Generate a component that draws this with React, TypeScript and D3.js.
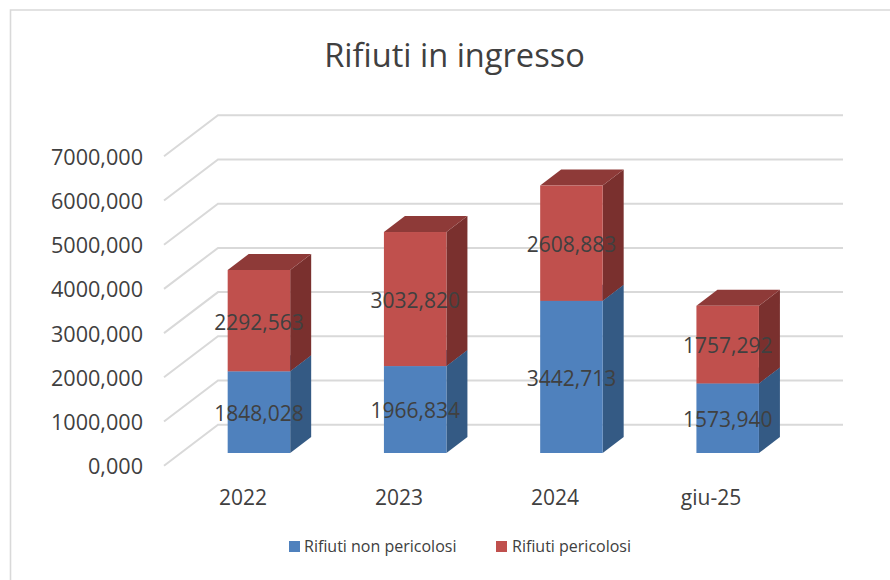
import React from "react";
import * as d3 from "d3";

const categories = ["2022", "2023", "2024", "giu-25"];
const nonPericolosi = [1848.028, 1966.834, 3442.713, 1573.94];
const pericolosi = [2292.563, 3032.82, 2608.883, 1757.292];
const ticks = [0, 1000, 2000, 3000, 4000, 5000, 6000, 7000];
const seriesNames = ["Rifiuti non pericolosi", "Rifiuti pericolosi"];

const FONT = "'Open Sans', sans-serif";
const fmt = (v: number) => v.toFixed(3).replace(".", ",");

export default function App() {
  const y = d3.scaleLinear().domain([0, 7000]).range([453, 143.6]);
  const x = d3.scaleBand<string>().domain(categories).range([180.8, 805.8]).paddingInner(0.6).paddingOuter(0.3);
  const labelX = d3.scalePoint<string>().domain(categories).range([243, 711]);
  const bw = x.bandwidth();
  const depthX = 21, depthY = -16;

  const box = (bx: number, y0: number, y1: number, front: string, side: string, top: string, key: string) => (
    <g key={key}>
      <polygon points={`${bx + bw},${y0} ${bx + bw + depthX},${y0 + depthY} ${bx + bw + depthX},${y1 + depthY} ${bx + bw},${y1}`} fill={side} />
      <polygon points={`${bx},${y1} ${bx + depthX},${y1 + depthY} ${bx + bw + depthX},${y1 + depthY} ${bx + bw},${y1}`} fill={top} />
      <rect x={bx} y={y1} width={bw} height={y0 - y1} fill={front} />
    </g>
  );

  return (
    <svg width={890} height={580} style={{ position: "absolute", left: 0, top: 0, background: "#fff" }} fontFamily={FONT}>
      <path d="M10.5,580 V10 H890" fill="none" stroke="#d9d9d9" strokeWidth={1.6} />
      <text x={454.5} y={67} textAnchor="middle" fontSize={32.6} fill="#404040">Rifiuti in ingresso</text>

      {ticks.map((t) => (
        <g key={t}>
          <polyline points={`164,${y(t) + 12.7} 218,${y(t) - 28.3} 843,${y(t) - 28.3}`} fill="none" stroke="#d9d9d9" strokeWidth={2} />
          <text x={143} y={y(t) + 13.7} dy="0.35em" textAnchor="end" fontSize={21.6} fill="#404040">{fmt(t)}</text>
        </g>
      ))}

      {categories.map((c, i) => {
        const bx = x(c)!;
        const y1 = y(nonPericolosi[i]);
        const y2 = y(nonPericolosi[i] + pericolosi[i]);
        return (
          <g key={c}>
            {box(bx, y(0), y1, "#4f81bd", "#345a84", "#3f6797", "b" + c)}
            {box(bx, y1, y2, "#c0504d", "#7a302e", "#8e3a38", "r" + c)}
          </g>
        );
      })}

      {categories.map((c, i) => {
        const cx = x(c)! + bw / 2;
        const y1 = y(nonPericolosi[i]);
        const y2 = y(nonPericolosi[i] + pericolosi[i]);
        return (
          <g key={c} fontSize={21} fill="#404040" textAnchor="middle">
            <text x={cx} y={(y(0) + y1) / 2 + 1.5} dy="0.35em">{fmt(nonPericolosi[i])}</text>
            <text x={cx} y={(y1 + y2) / 2 + 1.5} dy="0.35em">{fmt(pericolosi[i])}</text>
            <text x={labelX(c)} y={497.5} dy="0.35em">{c}</text>
          </g>
        );
      })}

      <rect x={289} y={541} width={11} height={11} fill="#4f81bd" />
      <text x={304} y={546} dy="0.35em" fontSize={16} fill="#404040">{seriesNames[0]}</text>
      <rect x={496} y={541} width={11} height={11} fill="#c0504d" />
      <text x={512} y={546} dy="0.35em" fontSize={16} fill="#404040">{seriesNames[1]}</text>
    </svg>
  );
}
